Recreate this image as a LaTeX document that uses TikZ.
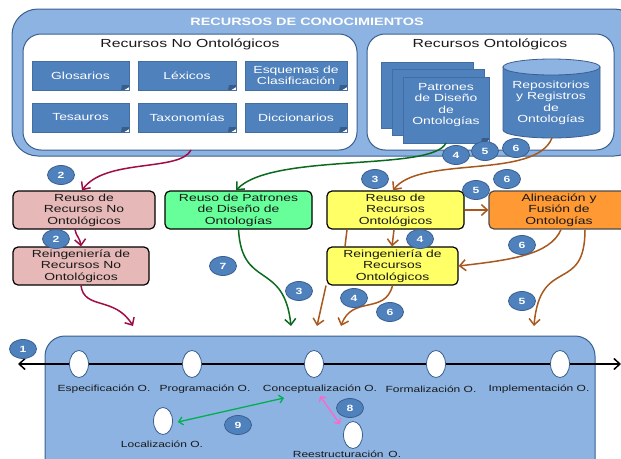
\documentclass[tikz,border=0pt]{standalone}
\usepackage{fontspec}
\setmainfont[FakeStretch=1.35]{Liberation Sans}
\usepackage{tikz}
\usetikzlibrary{calc}
\usetikzlibrary{arrows.meta}
\usetikzlibrary{shapes.geometric}

\definecolor{fondo}{HTML}{8DB3E2}
\definecolor{borde}{HTML}{3A5F8F}
\definecolor{azul}{HTML}{4F81BD}
\definecolor{pliegue}{HTML}{385D8A}
\definecolor{rosado}{HTML}{E6B8B7}
\definecolor{verdeclaro}{HTML}{66FF99}
\definecolor{amarillo}{HTML}{FFFF66}
\definecolor{naranja}{HTML}{FF9933}
\definecolor{granate}{HTML}{A00D45}
\definecolor{verdeosc}{HTML}{0A6B1E}
\definecolor{marron}{HTML}{A8581C}
\definecolor{verdeflecha}{HTML}{00B050}
\definecolor{fucsia}{HTML}{FF66CC}

\tikzset{
	panel/.style= {draw=borde, line width=1pt, fill=fondo, rounded corners=26, inner sep=0},
	blanco/.style= {draw=borde, line width=1pt, fill=white, rounded corners=18, inner sep=0},
	hoja/.style= {draw=azul!85!black, line width=0.4pt, fill=azul, inner sep=0, text=white, align=center,
		font=\fontsize{10.3}{11.5}\selectfont,
		path picture={
			\fill [white] ($(path picture bounding box.south east)+(-5,0)$) -- (path picture bounding box.south east) -- ($(path picture bounding box.south east)+(0,-3)$) -- cycle;
			\fill [pliegue] ($(path picture bounding box.south east)+(-8,0)$) -- ($(path picture bounding box.south east)+(-7,-5)$) -- ($(path picture bounding box.south east)+(0,-5)$) -- ($(path picture bounding box.south east)+(0,-3)$) -- ($(path picture bounding box.south east)+(-5,0)$) -- cycle;
		}},
	chica/.style= {hoja, minimum width=#1, minimum height=29},
	proceso/.style= {draw=black, line width=1.2pt, rounded corners=5, inner sep=0, minimum height=38, align=center,
		font=\fontsize{10.3}{11.5}\selectfont, text=black!90, execute at begin node={\rule{0pt}{10.5pt}}},
	ficha/.style= {ellipse, draw=borde, line width=0.8pt, fill=azul, minimum width=27, minimum height=19, inner sep=0,
		text=white, font=\fontsize{9}{10}\selectfont\bfseries},
	hito/.style= {ellipse, draw=borde, line width=0.8pt, fill=white, minimum width=19, minimum height=27, inner sep=0},
	etapa/.style= {inner sep=0, font=\fontsize{8.9}{9}\selectfont, text=black!90},
	flecha/.style= {line width=1.5pt, -{Straight Barb[length=6pt,width=11pt]}},
	doble/.style= {line width=1.3pt, {Straight Barb[length=4pt,width=8pt]}-{Straight Barb[length=4pt,width=8pt]}},
}

\begin{document}
\begin{tikzpicture}[x=1pt, y=-1pt]
	\useasboundingbox (0,0) rectangle (621,458);
	\clip (0,0) rectangle (621,458);

	% recursos de conocimientos
	\node [panel, minimum width=628, minimum height=147] (recursos) at (326,82.5) {};
	\node [font=\fontsize{10.7}{12}\selectfont\bfseries, text=white, inner sep=0] (titulo) at (307,22) {RECURSOS DE CONOCIMIENTOS};
	\node [blanco, minimum width=334, minimum height=116] (noonto) at (190,92) {};
	\node [blanco, minimum width=247, minimum height=116] (onto) at (490.5,92) {};
	\node [font=\fontsize{11.7}{12}\selectfont, text=black!90, inner sep=0] (noontotxt) at (190,44) {Recursos No Ontológicos};
	\node [font=\fontsize{11.7}{12}\selectfont, text=black!90, inner sep=0] (ontotxt) at (490,44) {Recursos Ontológicos};

	\node [chica=97] (glosarios) at (80.5,75.5) {Glosarios};
	\node [chica=98] (lexicos) at (187,75.5) {Léxicos};
	\node [chica=102] (esquemas) at (296,75.5) {Esquemas de\\Clasificación};
	\node [chica=97] (tesauros) at (80.5,117.5) {Tesauros};
	\node [chica=98] (taxonomias) at (187,117.5) {Taxonomías};
	\node [chica=102] (diccionarios) at (296,117.5) {Diccionarios};

	% hojas de patrones
	\node [hoja, minimum width=92, minimum height=66] (hojaA) at (427,95) {};
	\node [hoja, minimum width=92, minimum height=66] (hojaB) at (438,102) {};
	\node [hoja, minimum width=86, minimum height=66] (patrones) at (446,110) {};
	\node [inner sep=0, align=center, text=white, font=\fontsize{10.3}{11.5}\selectfont] (patronestxt) at (446,105) {Patrones\\de Diseño\\de\\Ontologías};

	% repositorios
	\draw [draw=borde, line width=0.8pt, fill=azul] (503,67) -- (503,130) arc [start angle=180, end angle=0, x radius=48.5, y radius=8] -- (600,67) -- cycle;
	\draw [draw=borde, line width=0.8pt, fill=fondo] (551.5,67) ellipse [x radius=48.5, y radius=8];
	\node [inner sep=0, align=center, text=white, font=\fontsize{10.3}{11.5}\selectfont] (repostxt) at (551,103) {Repositorios\\y Registros\\de\\Ontologías};

	% procesos
	\node [proceso, fill=rosado, minimum width=142] (reusoRNO) at (84,210) {Reuso de\\Recursos No\\Ontológicos};
	\node [proceso, fill=rosado, minimum width=136] (reingRNO) at (81,266) {Reingeniería de\\Recursos No\\Ontológicos};
	\node [proceso, fill=verdeclaro, minimum width=147] (reusoPD) at (238.5,210) {Reuso de Patrones\\de Diseño de\\Ontologías};
	\node [proceso, fill=amarillo, minimum width=137] (reusoRO) at (395.5,210) {Reuso de\\Recursos\\Ontológicos};
	\node [proceso, fill=amarillo, minimum width=131] (reingRO) at (392.5,266) {Reingeniería de\\Recursos\\Ontológicos};
	\node [proceso, draw=black!70, fill=naranja, minimum width=140] (alinea) at (559,210) {Alineación y\\Fusión de\\Ontologías};

	% extremos de flecha
	\coordinate (salNO) at (191,150);
	\coordinate (salPat) at (446,143);
	\coordinate (salRep) at (552,138);
	\coordinate (finA) at (133,326);
	\coordinate (finB) at (291,326);
	\coordinate (finC) at (317,326);
	\coordinate (finD) at (341,326);
	\coordinate (finE) at (534,326);

	% flechas
	\draw [flecha, granate] (salNO) .. controls (180,172) and (105,158) .. (reusoRNO.north -| 82,0);
	\draw [flecha, granate] (reusoRNO.south -| 75,0) .. controls (76,236) and (80,238) .. (reingRNO.north);
	\draw [flecha, granate] (reingRNO.south) .. controls (84,310) and (115,296) .. (finA);
	\draw [flecha, verdeosc] (salPat) .. controls (432,172) and (272,152) .. (reusoPD.north -| 236,0);
	\draw [flecha, verdeosc] (reusoPD.south) .. controls (242,290) and (284,260) .. (finB);
	\draw [flecha, marron] (salRep) .. controls (535,180) and (420,155) .. (reusoRO.north -| 393,0);
	\draw [flecha, marron] (reusoRO.east) -- (alinea.west);
	\draw [flecha, marron] (reusoRO.south -| 394,0) -- (reingRO.north -| 392,0);
	\draw [line width=1.5pt, marron] (reusoRO.south -| 347,0) -- (reingRO.north -| 345,0);
	\draw [flecha, marron] (reingRO.south -| 326,0) -- (finC);
	\draw [flecha, marron] (reingRO.south) .. controls (385,315) and (352,295) .. (finD);
	\draw [flecha, marron] (alinea.south -| 561,0) .. controls (550,255) and (510,260) .. (reingRO.east);
	\draw [flecha, marron] (alinea.south -| 585,0) .. controls (585,295) and (540,255) .. (finE);

	% ciclo de vida
	\node [panel, minimum width=550, minimum height=150, rounded corners=20] (ciclo) at (320,411) {};
	\coordinate (izq) at (18,364);
	\coordinate (der) at (621,364);
	\draw [line width=1.5pt, {Straight Barb[length=6pt,width=11pt]}-{Straight Barb[length=6pt,width=11pt]}] (izq) -- (der);

	\node [hito] (espec) at (79,364) {};
	\node [hito] (prog) at (192,364) {};
	\node [hito] (concep) at (314,364) {};
	\node [hito] (formal) at (436,364) {};
	\node [hito] (imple) at (560,364) {};
	\node [hito] (local) at (163,421) {};
	\node [hito] (reest) at (353,435) {};

	\node [etapa] (especT) at (104,389) {Especificación O.};
	\node [etapa] (progT) at (205,389) {Programación O.};
	\node [etapa] (concepT) at (320,389) {Conceptualización O.};
	\node [etapa] (formalT) at (431,389) {Formalización O.};
	\node [etapa] (impleT) at (539,389) {Implementación O.};
	\node [etapa] (localT) at (162,444) {Localización O.};
	\node [etapa] (reestT) at (347,454) {Reestructuración\, O.};

	\coordinate (verdeA) at (284,398);
	\coordinate (fucsiaA) at (320,396);
	\draw [doble, verdeflecha] ($(local.east)+(5,1)$) -- (verdeA);
	\draw [doble, fucsia] (fucsiaA) -- ($(reest.north west)+(-6,-1)$);

	% numeros
	\node [ficha] (n1) at (23,349) {1};
	\node [ficha] (n2a) at (61,175) {2};
	\node [ficha] (n2b) at (56,239) {2};
	\node [ficha] (n3a) at (299,291) {3};
	\node [ficha] (n3b) at (375,179) {3};
	\node [ficha] (n4a) at (456,155) {4};
	\node [ficha] (n4b) at (420,239) {4};
	\node [ficha] (n4c) at (354,298) {4};
	\node [ficha] (n5a) at (485,151) {5};
	\node [ficha] (n5b) at (476,190) {5};
	\node [ficha] (n5c) at (522,301) {5};
	\node [ficha] (n6a) at (516,148) {6};
	\node [ficha] (n6b) at (507,179) {6};
	\node [ficha] (n6c) at (522,245) {6};
	\node [ficha] (n6d) at (390,312) {6};
	\node [ficha] (n7) at (223,266) {7};
	\node [ficha] (n8) at (350,408) {8};
	\node [ficha] (n9) at (238,425) {9};
\end{tikzpicture}
\end{document}
